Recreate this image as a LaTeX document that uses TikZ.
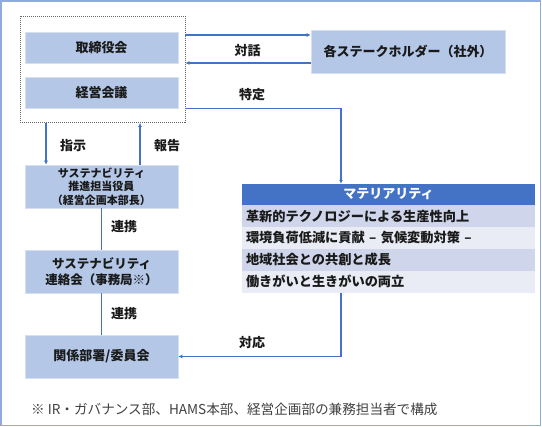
\documentclass[tikz,border=0pt]{standalone}
\usepackage{fontspec}
\setmainfont{Noto Sans CJK JP}
\usetikzlibrary{arrows.meta,calc}
\definecolor{boxblue}{HTML}{B4C7E7}
\definecolor{boxedge}{HTML}{D6E0F0}
\definecolor{arrblue}{HTML}{4472C4}
\definecolor{frameblue}{HTML}{8FAADC}
\definecolor{rowA}{HTML}{CFD5EA}
\definecolor{rowB}{HTML}{E9EBF5}
\definecolor{txt}{HTML}{1A1A1A}
\definecolor{notetxt}{HTML}{404040}
\begin{document}
\begin{tikzpicture}[x=1pt,y=-1pt,
  bluebox/.style={fill=boxblue, draw=boxedge, line width=0.6pt, minimum width=153pt, minimum height=43pt, inner sep=0pt, font=\fontsize{13}{16}\selectfont\bfseries, text=txt, align=center},
  lbl/.style={font=\fontsize{13}{16}\selectfont\bfseries, text=txt, inner sep=0pt},
  matrow/.style={minimum height=21.5pt, text width=285pt, inner xsep=4pt, inner ysep=0pt, align=left, font=\fontsize{13.2}{16}\selectfont\bfseries, text=txt},
  arr/.style={draw=arrblue, line width=1.2pt, -{Latex[length=4pt,width=4pt]}},
  conn/.style={draw=arrblue, line width=1.2pt}
]
\useasboundingbox (0,0) rectangle (542,427);
\draw[frameblue, line width=1.3pt] (1,1) rectangle (540.5,425.5);

% dashed group
\node[draw=gray!80!black, dash pattern=on 1pt off 1pt, line width=0.8pt, minimum width=165pt, minimum height=106pt, inner sep=0pt] (dbox) at (102.5,69.5) {};

\node[bluebox, minimum height=31pt] (tori) at (101.5,47.5) {取締役会};
\node[bluebox, minimum height=31pt] (keiei) at (101.5,92.5) {経営会議};
\node[bluebox, minimum width=194pt] (stake) at (408,51.5) {各ステークホルダー（社外）};

\node[bluebox, font=\fontsize{11}{13.5}\selectfont\bfseries] (suishin) at (101.5,186.5) {サステナビリティ\\推進担当役員\\（経営企画本部長）};
\node[bluebox, font=\fontsize{12.5}{16}\selectfont\bfseries] (renraku) at (101.5,271.5) {サステナビリティ\\連絡会（事務局※）};
\node[bluebox] (kankei) at (101.5,356.5) {関係部署/委員会};

% materiality
\node[fill=arrblue, minimum width=293pt, minimum height=21pt, inner sep=0pt, font=\fontsize{13}{16}\selectfont\bfseries, text=white] (mat) at (388.5,194.5) {マテリアリティ};
\node[matrow, fill=rowA, anchor=north] (r1) at (mat.south) {革新的テクノロジーによる生産性向上};
\node[matrow, fill=rowB, anchor=north] (r2) at (r1.south) {環境負荷低減に貢献 – 気候変動対策 –};
\node[matrow, fill=rowA, anchor=north] (r3) at (r2.south) {地域社会との共創と成長};
\node[matrow, fill=rowB, anchor=north] (r4) at (r3.south) {働きがいと生きがいの両立};

% connectors
\coordinate (ty) at (0,35);
\coordinate (by) at (0,63);
\coordinate (tk) at (341,0);
\coordinate (sx) at (46,0);
\coordinate (hx) at (140,0);

\draw[arr] (dbox.east |- ty) -- (stake.west |- ty);
\draw[arr] (stake.west |- by) -- (dbox.east |- by);
\draw[arr] (dbox.east |- keiei.south) -| (mat.north -| tk);
\draw[arr] (r4.south -| tk) |- (kankei.east);
\draw[arr] (dbox.south -| sx) -- (suishin.north -| sx);
\draw[arr] (suishin.north -| hx) -- (dbox.south -| hx);
\draw[conn] (suishin.south) -- (renraku.north);
\draw[conn] (renraku.south) -- (kankei.north);

% labels
\node[lbl] (l1) at (247.5,51) {対話};
\node[lbl] (l2) at (252,95) {特定};
\node[lbl] (l3) at (73,146) {指示};
\node[lbl] (l4) at (167,146) {報告};
\node[lbl] (l5) at (124,227) {連携};
\node[lbl] (l6) at (124,313.5) {連携};
\node[lbl] (l7) at (252,343) {対応};

\node[anchor=west, inner sep=0pt, font=\fontsize{13.6}{16}\selectfont, text=notetxt] (note) at (31,409) {※ IR・ガバナンス部、HAMS本部、経営企画部の兼務担当者で構成};
\end{tikzpicture}
\end{document}
